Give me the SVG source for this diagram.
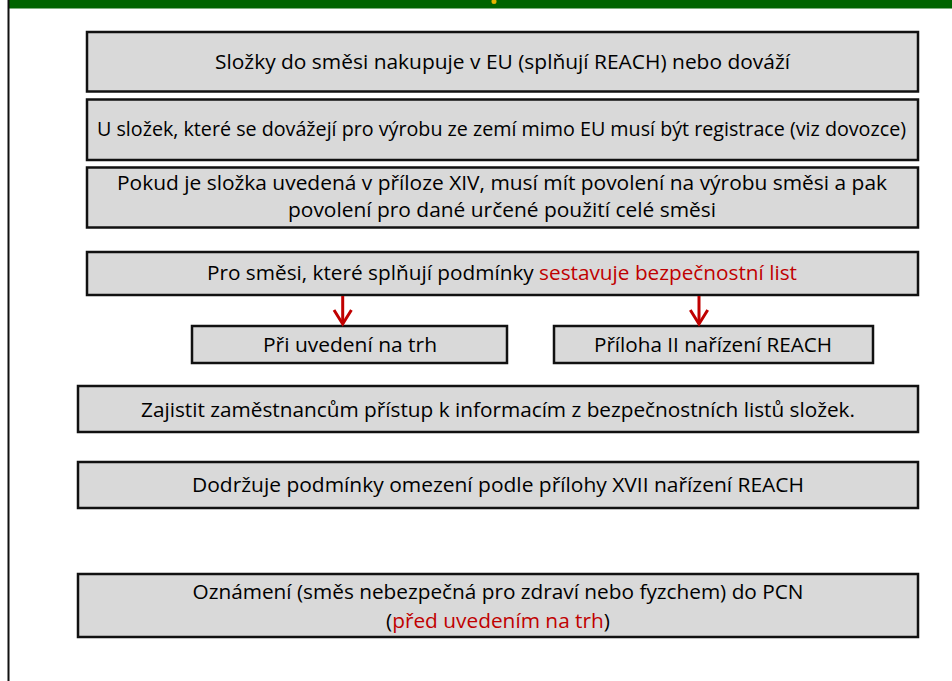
<svg xmlns="http://www.w3.org/2000/svg" width="952" height="681" viewBox="0 0 952 681">
<style>
.box{fill:#d9d9d9;stroke:#111;stroke-width:2.5}
.t{font-family:"Open Sans","Noto Sans","Liberation Sans",sans-serif;font-size:20.5px;fill:#000;text-anchor:middle}
.r{fill:#c00000}
.arr{stroke:#c00000;stroke-width:3;fill:none}
</style>
<rect x="0" y="0" width="952" height="681" fill="#ffffff"/>
<rect x="9" y="0" width="943" height="8.5" fill="#006400"/>
<ellipse cx="494" cy="1.5" rx="2.5" ry="2.5" fill="#e6b400"/>
<line x1="8.5" y1="0" x2="8.5" y2="681" stroke="#111" stroke-width="2"/>
<g id="n1"><rect class="box" x="87" y="32" width="831" height="59.5"/><text class="t" x="502.5" y="69" textLength="575" lengthAdjust="spacingAndGlyphs">Složky do směsi nakupuje v EU (splňují REACH) nebo dováží</text></g>
<g id="n2"><rect class="box" x="87" y="99.5" width="831" height="60.5"/><text class="t" x="501.5" y="136" textLength="809" lengthAdjust="spacingAndGlyphs">U složek, které se dovážejí pro výrobu ze zemí mimo EU musí být registrace (viz dovozce)</text></g>
<g id="n3"><rect class="box" x="87" y="167.5" width="831" height="60"/><text class="t" x="502" y="189.5" textLength="770" lengthAdjust="spacingAndGlyphs">Pokud je složka uvedená v příloze XIV, musí mít povolení na výrobu  směsi a pak</text><text class="t" x="502" y="216.5" textLength="428" lengthAdjust="spacingAndGlyphs">povolení pro dané určené použití celé směsi</text></g>
<g id="n4"><rect class="box" x="87" y="252" width="831" height="43"/><text class="t" x="502" y="280" textLength="590" lengthAdjust="spacingAndGlyphs">Pro směsi, které splňují podmínky <tspan class="r">sestavuje bezpečnostní list</tspan></text></g>
<g id="n5"><rect class="box" x="192" y="326" width="315" height="37"/><text class="t" x="350" y="352" textLength="174" lengthAdjust="spacingAndGlyphs">Při uvedení na trh</text></g>
<g id="n6"><rect class="box" x="554" y="326" width="319" height="37"/><text class="t" x="713" y="352" textLength="238" lengthAdjust="spacingAndGlyphs">Příloha II nařízení REACH</text></g>
<g id="n7"><rect class="box" x="78" y="386" width="840" height="46"/><text class="t" x="498" y="417" textLength="714" lengthAdjust="spacingAndGlyphs">Zajistit zaměstnancům přístup k informacím z bezpečnostních listů složek.</text></g>
<g id="n8"><rect class="box" x="78" y="462" width="840" height="46"/><text class="t" x="498" y="492" textLength="612" lengthAdjust="spacingAndGlyphs">Dodržuje podmínky omezení podle přílohy XVII nařízení REACH</text></g>
<g id="n9"><rect class="box" x="78" y="574" width="840" height="63"/><text class="t" x="498" y="599" textLength="611" lengthAdjust="spacingAndGlyphs">Oznámení (směs nebezpečná pro zdraví nebo fyzchem) do PCN</text><text class="t" x="498" y="628" textLength="224" lengthAdjust="spacingAndGlyphs">(<tspan class="r">před uvedením na trh</tspan>)</text></g>
<g id="connectors">
<line class="arr" x1="342.7" y1="296" x2="342.7" y2="324"/><polyline class="arr" points="334,310 342.7,324 351.4,310"/>
<line class="arr" x1="699" y1="296" x2="699" y2="324"/><polyline class="arr" points="690.3,310 699,324 707.7,310"/>
</g>
</svg>
